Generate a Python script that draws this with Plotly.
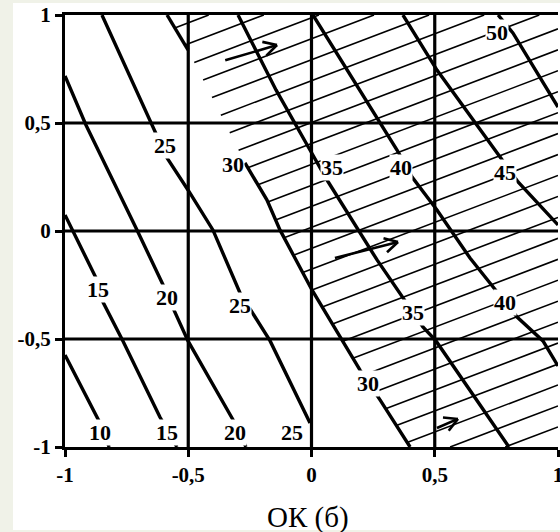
import numpy as np
import plotly.graph_objects as go

# ---------------- data (axis units) ----------------
# contour lines, level -> polyline (None = gap in the drawn line)
C10_X = [-1.0, -0.858, -0.821]
C10_Y = [-0.574, -0.889, -1.0]
C15_X = [-1.0, -0.870, -0.846, -0.765, -0.615, -0.546]
C15_Y = [0.074, -0.227, -0.329, -0.509, -0.861, -1.0]
C20_X = [-1.0, -0.915, -0.708, -0.602, -0.562, -0.501, -0.318, -0.266]
C20_Y = [0.718, 0.491, 0.005, -0.250, -0.356, -0.509, -0.875, -1.0]
C25_X = [-0.850, -0.645, -0.586, -0.501, -0.400, -0.290, -0.168, -0.006]
C25_Y = [1.0, 0.491, 0.338, 0.190, 0.005, -0.287, -0.509, -0.889]
C30_X = [-0.586, -0.501, None, -0.270, -0.181, -0.128, 0.002, 0.124, 0.197, 0.278, 0.400]
C30_Y = [1.0, 0.838, None, 0.315, 0.144, 0.005, -0.273, -0.505, -0.644, -0.782, -1.0]
C35_X = [-0.298, -0.144, -0.006, 0.063, 0.266, 0.367, 0.452, 0.505, 0.793, 0.801]
C35_Y = [1.0, 0.653, 0.375, 0.236, -0.134, -0.306, -0.444, -0.509, -0.981, -1.0]
C40_X = [0.006, 0.347, 0.408, 0.509, 0.643, 0.753, 0.834, 0.939, 1.0]
C40_Y = [1.0, 0.375, 0.250, 0.097, -0.125, -0.282, -0.398, -0.509, -0.625]
C45_X = [0.371, 0.509, 0.765, 0.838, 1.0]
C45_Y = [1.0, 0.745, 0.343, 0.227, 0.028]
C50_X = [0.757, 0.817, 1.0]
C50_Y = [1.0, 0.917, 0.574]

CONTOURS = [(C10_X, C10_Y), (C15_X, C15_Y), (C20_X, C20_Y), (C25_X, C25_Y),
            (C30_X, C30_Y), (C35_X, C35_Y), (C40_X, C40_Y), (C45_X, C45_Y),
            (C50_X, C50_Y)]

# contour labels
LABEL_TEXT = ["10", "15", "15", "20", "20", "25", "25", "25", "30", "30",
              "35", "35", "40", "40", "45", "50"]
LABEL_X = [-0.858, -0.866, -0.586, -0.586, -0.310, -0.594, -0.290, -0.079,
           -0.318, 0.229, 0.083, 0.412, 0.363, 0.785, 0.785, 0.753]
LABEL_Y = [-0.931, -0.269, -0.931, -0.306, -0.931, 0.394, -0.343, -0.935,
           0.306, -0.704, 0.296, -0.375, 0.296, -0.333, 0.269, 0.917]

# arrows (tail -> tip)
ARROW_TAIL_X = [-0.350, 0.095, 0.509]
ARROW_TAIL_Y = [0.790, -0.125, -0.912]
ARROW_TIP_X = [-0.140, 0.351, 0.594]
ARROW_TIP_Y = [0.861, -0.051, -0.870]

# axes
TICK_VALS = [-1, -0.5, 0, 0.5, 1]
TICK_TEXT = ["-1", "-0,5", "0", "0,5", "1"]
GRID_VALS = [-0.5, 0, 0.5]
X_TITLE = "\u041e\u041a (\u0431)"

# hatching of the region beyond the 30 contour
HATCH_SLOPE = 0.434
HATCH_STEP = 0.097
HATCH_PHASE = -0.177

# ---------------- figure ----------------
W, H = 560, 532
ML, MR, MT, MB = 65, 2, 15, 85
SX = (W - ML - MR) / 2.0
SY = (H - MT - MB) / 2.0
FONT = "Liberation Serif, Times New Roman, serif"

fig = go.Figure()

# hatching
bx = [v for v in C30_X if v is not None]
by = [v for v in C30_Y if v is not None]
order = np.argsort(by)
bys = np.array(by)[order]
bxs = np.array(bx)[order]


def xc(yv):
    return np.interp(yv, bys, bxs)


hx, hy = [], []
for k in range(-60, 60):
    b = HATCH_PHASE + k * HATCH_STEP
    lo, hi = -4.0, 4.0
    for _ in range(60):
        mid = 0.5 * (lo + hi)
        if mid - xc(HATCH_SLOPE * mid + b) < 0:
            lo = mid
        else:
            hi = mid
    x0 = max(hi, (-1 - b) / HATCH_SLOPE, -1.0)
    x1 = min(1.0, (1 - b) / HATCH_SLOPE)
    if x1 > x0 + 1e-3:
        hx += [x0, x1, None]
        hy += [HATCH_SLOPE * x0 + b, HATCH_SLOPE * x1 + b, None]

fig.add_trace(go.Scatter(x=hx, y=hy, mode="lines",
                         line=dict(color="black", width=1.6),
                         hoverinfo="skip", showlegend=False))

# contour lines
for cx, cy in CONTOURS:
    fig.add_trace(go.Scatter(x=cx, y=cy, mode="lines",
                             line=dict(color="black", width=3.4),
                             connectgaps=False, hoverinfo="skip",
                             showlegend=False))

# arrows
ax_, ay_ = [], []
for tx0, ty0, tx1, ty1 in zip(ARROW_TAIL_X, ARROW_TAIL_Y, ARROW_TIP_X, ARROW_TIP_Y):
    dxp = (tx1 - tx0) * SX
    dyp = (ty1 - ty0) * SY
    n = np.hypot(dxp, dyp)
    ux, uy = -dxp / n, -dyp / n
    ax_ += [tx0, tx1, None]
    ay_ += [ty0, ty1, None]
    for ang in (0.5, -0.5):
        c, s = np.cos(ang), np.sin(ang)
        wx = (ux * c - uy * s) * 15
        wy = (ux * s + uy * c) * 15
        ax_ += [tx1 + wx / SX, tx1, None]
        ay_ += [ty1 + wy / SY, ty1, None]
fig.add_trace(go.Scatter(x=ax_, y=ay_, mode="lines",
                         line=dict(color="black", width=2.6),
                         hoverinfo="skip", showlegend=False))

# background frame and grid lines
shapes = [dict(type="rect", xref="paper", yref="paper",
               x0=(13 - ML) / (W - ML - MR), x1=1.05,
               y0=(H - MB - 530) / (H - MT - MB), y1=(H - MB - 3) / (H - MT - MB),
               fillcolor="white", line=dict(width=0), layer="below")]
for g in GRID_VALS:
    shapes.append(dict(type="line", xref="x", yref="y", x0=g, x1=g, y0=-1, y1=1,
                       line=dict(color="black", width=3.2), layer="below"))
    shapes.append(dict(type="line", xref="x", yref="y", x0=-1, x1=1, y0=g, y1=g,
                       line=dict(color="black", width=3.2), layer="below"))

annotations = []
for t, x, y in zip(LABEL_TEXT, LABEL_X, LABEL_Y):
    annotations.append(dict(x=x, y=y, xref="x", yref="y", text=t, showarrow=False,
                            font=dict(family=FONT, size=22, color="black", weight="bold"),
                            bgcolor="white", borderpad=0))
annotations.append(dict(x=(308 - ML) / (W - ML - MR), y=(H - MB - 517) / (H - MT - MB),
                        xref="paper", yref="paper", text=X_TITLE, showarrow=False,
                        font=dict(family=FONT, size=29, color="black"),
                        xanchor="center", yanchor="middle"))

axis_common = dict(range=[-1, 1], tickmode="array", tickvals=TICK_VALS,
                   ticktext=TICK_TEXT, showgrid=False, zeroline=False,
                   showline=True, linecolor="black", linewidth=3.2,
                   ticks="outside", ticklen=7, tickwidth=2.5, tickcolor="black",
                   ticklabeloverflow="allow", automargin=False,
                   tickfont=dict(family=FONT, size=21, color="black", weight="bold"))

fig.update_layout(
    width=W, height=H,
    margin=dict(l=ML, r=MR, t=MT, b=MB, pad=0, autoexpand=False),
    paper_bgcolor="#f0f2e8", plot_bgcolor="white",
    xaxis=dict(**axis_common, mirror=True),
    yaxis=dict(**axis_common, mirror=False),
    shapes=shapes, annotations=annotations, showlegend=False,
)

fig.write_html("out.html")
